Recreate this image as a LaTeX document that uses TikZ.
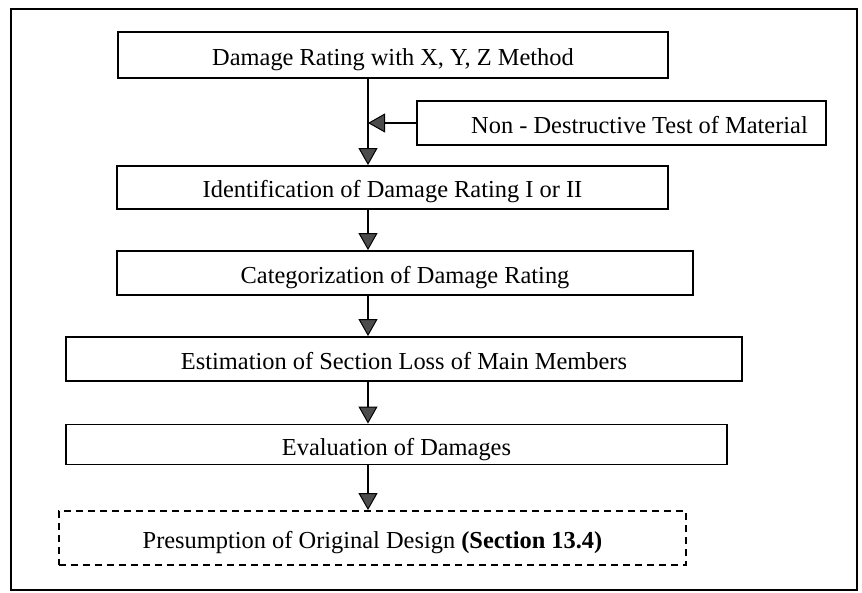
\documentclass[tikz,border=0pt]{standalone}
\usepackage{fontspec}
\setmainfont{Liberation Serif}
\usetikzlibrary{arrows.meta}
\tikzset{
  stepbox/.style={draw=black, line width=1.9bp, rectangle, inner sep=0pt,
    text height=21bp, text depth=0bp, font=\fontsize{24.5}{28}\selectfont},
  dashbox/.style={stepbox, dash pattern=on 7bp off 5bp},
  flow/.style={line width=1.9bp, -{Triangle[length=17bp,width=19bp,fill=black!70,line width=1bp]}},
}
\begin{document}
\begin{tikzpicture}[x=1bp,y=-1bp]
\useasboundingbox (0,0) rectangle (862,593);
\draw[line width=1.9bp] (11,9) rectangle (857,590);
% boxes: center at ((x1+x2)/2,(y1+y2)/2), size (x2-x1)x(y2-y1)
\node[stepbox, minimum width=550bp, minimum height=46bp] (b1) at (393,55) {Damage Rating with X, Y, Z Method};
\node[stepbox, minimum width=409bp, minimum height=44bp] (ndt) at (621.5,123) {\hspace*{36bp}Non - Destructive Test of Material};
\node[stepbox, minimum width=551bp, minimum height=43bp] (b2) at (392.5,187.5) {Identification of Damage Rating I or II};
\node[stepbox, minimum width=576bp, minimum height=44bp] (b3) at (405,273) {Categorization of Damage Rating};
\node[stepbox, minimum width=676bp, minimum height=44bp] (b4) at (404,359) {Estimation of Section Loss of Main Members};
\node[stepbox, minimum width=661bp, minimum height=40bp] (b5) at (396.5,444.5) {Evaluation of Damages};
\node[dashbox, minimum width=627bp, minimum height=54bp] (b6) at (372.5,538) {Presumption of Original Design \textbf{(Section 13.4)}};
% connectors
\coordinate (j) at (368,123);
\draw[flow] (b1.south -| j) -- (b2.north -| j);
\draw[flow] (ndt.west) -- (j);
\draw[flow] (b2.south -| j) -- (b3.north -| j);
\draw[flow] (b3.south -| j) -- (b4.north -| j);
\draw[flow] (b4.south -| j) -- (b5.north -| j);
\draw[flow] (b5.south -| j) -- (b6.north -| j);
\end{tikzpicture}
\end{document}
